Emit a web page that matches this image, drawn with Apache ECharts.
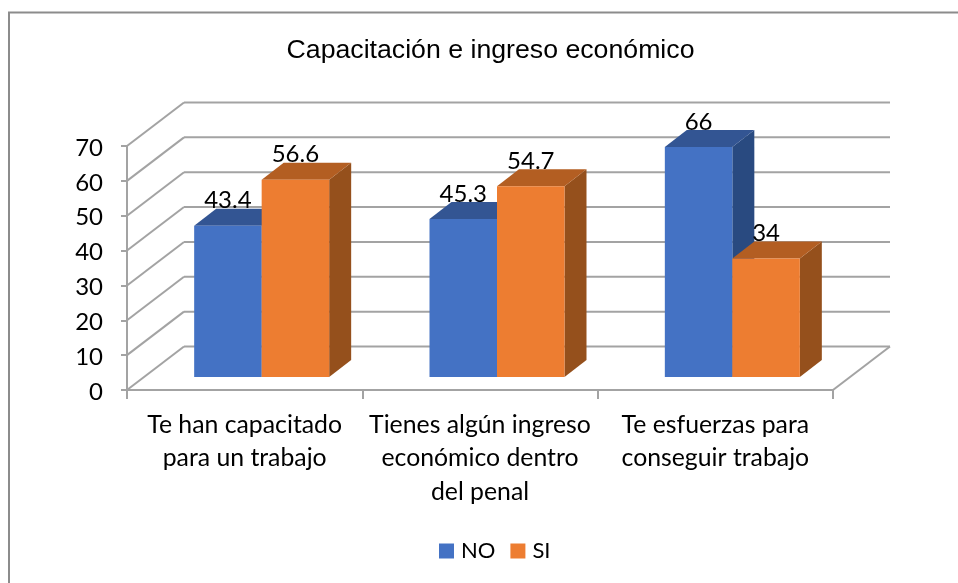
<!DOCTYPE html>
<html><head><meta charset="utf-8">
<style>html,body{margin:0;padding:0;background:#fff}#c{width:958px;height:583px}</style>
<script src="https://cdn.jsdelivr.net/npm/echarts@6/dist/echarts.min.js"></script>
</head><body><div id="c"></div>
<script>
const categories = ['Te han capacitado\npara un trabajo', 'Tienes algún ingreso\neconómico dentro\ndel penal', 'Te esfuerzas para\nconseguir trabajo'];
const noValues = [43.4, 45.3, 66];
const siValues = [56.6, 54.7, 34];
const yTicks = [0, 10, 20, 30, 40, 50, 60, 70];

// Oblique projection of the 3D box
const WALL_DX = 57, WALL_DY = -43.5;
const BAR_DX = 17, BAR_DY = -13, BAR_DEPTH_X = 22, BAR_DEPTH_Y = -17;
const BAR_WIDTH = 67.5;
const GRID_COLOR = '#a3a3a3';

function poly(points, fill, z2) {
  return { type: 'polygon', z2: z2 || 0, shape: { points }, style: { fill, stroke: null } };
}
function line(x1, y1, x2, y2, z2) {
  return { type: 'line', z2: z2 || 0, shape: { x1, y1, x2, y2 }, style: { stroke: GRID_COLOR, lineWidth: 2 } };
}
function barItem(side, front, top, right) {
  return function (params, api) {
    const c = api.coord([api.value(0), api.value(1)]);
    const b = api.coord([api.value(0), 0]);
    const x0 = c[0] + BAR_DX + (side < 0 ? -BAR_WIDTH : 0), x1 = x0 + BAR_WIDTH;
    const yT = c[1] + BAR_DY, yB = b[1] + BAR_DY;
    const dx = BAR_DEPTH_X, dy = BAR_DEPTH_Y;
    return { type: 'group', children: [
      poly([[x1, yT], [x1 + dx, yT + dy], [x1 + dx, yB + dy], [x1, yB]], right),
      poly([[x0, yT], [x0 + dx, yT + dy], [x1 + dx, yT + dy], [x1, yT]], top),
      poly([[x0, yT], [x1, yT], [x1, yB], [x0, yB]], front)
    ] };
  };
}
function wallItem(params, api) {
  const v = api.value(0);
  const p = api.coord([0, v]);
  const left = params.coordSys.x, right = left + params.coordSys.width;
  const children = [
    line(left, p[1], left + WALL_DX, p[1] + WALL_DY),
    line(left + WALL_DX, p[1] + WALL_DY, right + WALL_DX, p[1] + WALL_DY)
  ];
  if (v === 0) children.push(line(right, p[1], right + WALL_DX, p[1] + WALL_DY));
  return { type: 'group', children };
}
function labelItem(side) {
  return function (params, api) {
    const c = api.coord([api.value(0), api.value(1)]);
    return { type: 'text', style: {
      text: String(api.value(1)),
      x: c[0] + BAR_DX + side * BAR_WIDTH / 2,
      y: c[1] + BAR_DY + BAR_DEPTH_Y + 4,
      align: 'center', verticalAlign: 'bottom',
      font: '24px Lato', fill: '#000'
    } };
  };
}

const chart = echarts.init(document.getElementById('c'), null, { renderer: 'canvas' });
chart.setOption({
  animation: false,
  backgroundColor: '#fff',
  title: { text: 'Capacitación e ingreso económico', left: 485.5, top: 32, textAlign: 'center',
    textStyle: { fontFamily: 'Liberation Sans', fontSize: 26.7, fontWeight: 'normal', color: '#000' } },
  legend: { top: 535, left: 434, itemWidth: 15, itemHeight: 15, itemGap: 15, icon: 'rect',
    data: [{ name: 'NO', itemStyle: { color: '#4472c4' } }, { name: 'SI', itemStyle: { color: '#ed7d31' } }],
    textStyle: { fontFamily: 'Lato', fontSize: 22, color: '#000', padding: [0, 0, 0, 2] } },
  grid: { left: 127, right: 125, top: 146, bottom: 193, containLabel: false },
  xAxis: { type: 'category', data: categories,
    axisLine: { lineStyle: { color: GRID_COLOR, width: 2 } },
    axisTick: { show: true, length: 9, alignWithLabel: false, lineStyle: { color: GRID_COLOR, width: 2 } },
    axisLabel: { interval: 0, fontFamily: 'Lato', fontSize: 24.8, color: '#000', margin: 18, lineHeight: 33.5 }
  },
  yAxis: { type: 'value', min: 0, max: 70, interval: 10,
    splitLine: { show: false },
    axisLine: { show: true, lineStyle: { color: GRID_COLOR, width: 2 } },
    axisTick: { show: true, length: 6, lineStyle: { color: GRID_COLOR, width: 2 } },
    axisLabel: { fontFamily: 'Lato', fontSize: 24, color: '#000', margin: 24, verticalAlign: 'top', lineHeight: 4 } },
  graphic: [{ type: 'rect', silent: true, z: -1,
    shape: { x: 9, y: 12.5, width: 960, height: 600 },
    style: { fill: 'none', stroke: '#8c8c8c', lineWidth: 2 } }],
  series: [
    { type: 'custom', name: 'wall', coordinateSystem: 'cartesian2d', z: 1, silent: true, clip: false,
      renderItem: wallItem, encode: { y: 0 }, data: yTicks.map(v => [v]) },
    { type: 'custom', name: 'NO', z: 3, clip: false, itemStyle: { color: '#4472c4' },
      renderItem: barItem(-1, '#4472c4', '#335593', '#294a80'),
      encode: { x: 0, y: 1 }, data: noValues.map((v, i) => [i, v]) },
    { type: 'custom', name: 'SI', z: 4, clip: false, itemStyle: { color: '#ed7d31' },
      renderItem: barItem(1, '#ed7d31', '#b35e22', '#95501c'),
      encode: { x: 0, y: 1 }, data: siValues.map((v, i) => [i, v]) },
    { type: 'custom', name: 'labelsNO', z: 5, clip: false, silent: true,
      renderItem: labelItem(-1), encode: { x: 0, y: 1 }, data: noValues.map((v, i) => [i, v]) },
    { type: 'custom', name: 'labelsSI', z: 5, clip: false, silent: true,
      renderItem: labelItem(1), encode: { x: 0, y: 1 }, data: siValues.map((v, i) => [i, v]) }
  ]
});
</script></body></html>
